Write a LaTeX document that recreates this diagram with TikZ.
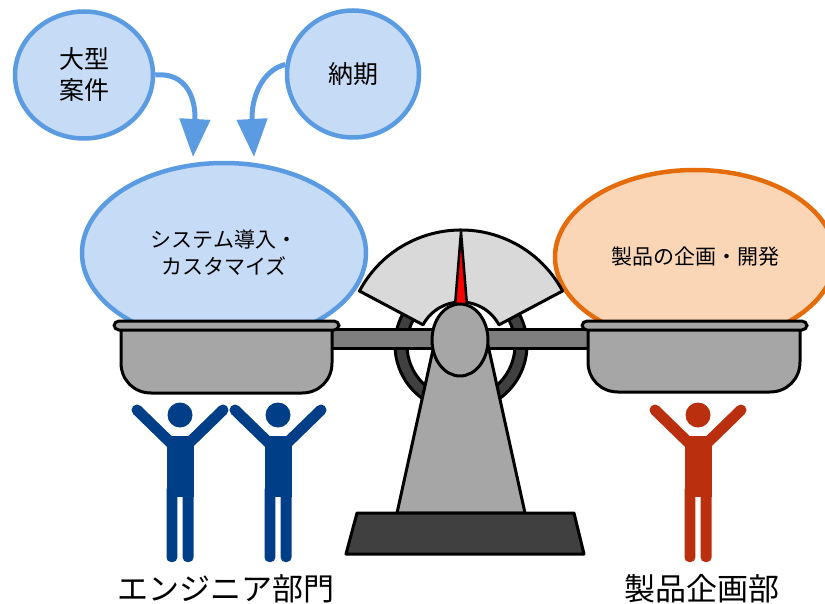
\documentclass[tikz,border=0pt]{standalone}
\usepackage{fontspec}
\setmainfont{Noto Sans CJK JP}
\usetikzlibrary{arrows.meta,shapes.geometric,calc}

\definecolor{blueline}{RGB}{91,155,226}
\definecolor{bluefill}{RGB}{198,219,245}
\definecolor{orangeline}{RGB}{228,108,10}
\definecolor{orangefill}{RGB}{251,214,182}
\definecolor{pangray}{RGB}{166,166,166}
\definecolor{beamgray}{RGB}{127,127,127}
\definecolor{basegray}{RGB}{64,64,64}
\definecolor{dialgray}{RGB}{217,217,217}
\definecolor{engblue}{RGB}{0,63,135}
\definecolor{planred}{RGB}{186,48,14}

% a person with raised arms; #1,#2 = head centre, #3 = colour
\newcommand\cheerperson[3]{%
  \begin{scope}[shift={(#1,#2)}]
    \fill[#3] (0,0) circle[radius=12.5];
    \draw[#3, line width=11pt, line cap=round] (-43,-5) -- (-6,31);
    \draw[#3, line width=11pt, line cap=round] (43,-5) -- (6,31);
    \fill[#3] (-13.5,21) rectangle (13.5,82);
    \fill[#3, rounded corners=4.5pt] (-13.5,70) rectangle (-2.7,147);
    \fill[#3, rounded corners=4.5pt] (2.7,70) rectangle (13.5,147);
  \end{scope}}

\begin{document}
\begin{tikzpicture}[x=1pt,y=-1pt,
  bubble/.style={ellipse, draw=blueline, fill=bluefill, line width=4.5pt,
    inner sep=0pt, align=center, font=\fontsize{25}{31}\selectfont},
  weight/.style={ellipse, line width=4.5pt, inner sep=0pt, align=center,
    font=\fontsize{21}{27}\selectfont},
  flow/.style={draw=blueline, line width=5pt, -{Triangle[width=30pt,length=38pt]}},
  metal/.style={draw=black, line width=3pt, line join=round},
  label/.style={font=\fontsize{31}{31}\selectfont, inner sep=0pt}]

\clip (0,0) rectangle (825,604);

% input bubbles and their arrows
\node[bubble, minimum width=138pt, minimum height=127pt] (case) at (84,75) {大型\\案件};
\node[bubble, minimum width=132pt, minimum height=127pt] (due) at (353,74) {納期};
\coordinate (tipA) at (193,157);
\coordinate (tipB) at (254,157);
\draw[flow] (case.east) .. controls (186,72) and (196,98) .. (tipA);
\draw[flow] (due.172) .. controls (262,70) and (251,98) .. (tipB);

% loads on the two pans
\node[weight, draw=blueline, fill=bluefill, minimum width=284pt, minimum height=180pt]
  (sys) at (224,253) {システム導入・\\カスタマイズ};
\node[weight, draw=orangeline, fill=orangefill, minimum width=280pt, minimum height=174pt]
  (plan) at (695,257) {製品の企画・開発};

% balance: ring behind the dial
\coordinate (hub) at (461,345);
\draw[metal, fill=basegray, even odd rule] (hub) circle[radius=66] (hub) circle[radius=54];
\draw[metal, fill=dialgray] ($(hub)+(-152:43)$) -- ($(hub)+(-152:115)$)
  arc[start angle=-152, end angle=-28, radius=115] -- ($(hub)+(-28:43)$)
  arc[start angle=-28, end angle=-152, radius=43] -- cycle;
\draw[metal, fill=red, line width=2.5pt] (454,318) -- (461,232) -- (468,318) -- cycle;

% beam
\draw[metal, fill=beamgray] (328,329) rectangle (594,348);

% left pan
\draw[metal, fill=pangray] (121,329) -- (121,363) .. controls (121,380) and (134,393) .. (151,393)
  -- (302,393) .. controls (319,393) and (332,380) .. (332,363) -- (332,329) -- cycle;
\draw[metal, fill=pangray, rounded corners=5pt] (114,321) rectangle (339,330);
% right pan
\draw[metal, fill=pangray] (588,329) -- (588,362) .. controls (588,379) and (601,392) .. (618,392)
  -- (770,392) .. controls (787,392) and (800,379) .. (800,362) -- (800,329) -- cycle;
\draw[metal, fill=pangray, rounded corners=5pt] (582,321) rectangle (807,330);

% stand, pivot and base
\draw[metal, fill=pangray] (434,345) -- (397,513) -- (525,513) -- (488,345) -- cycle;
\draw[metal, fill=pangray] (460,340) ellipse[x radius=28, y radius=36];
\draw[metal, fill=basegray] (357,513) -- (346,554) -- (584,554) -- (574,513) -- cycle;

% people holding up the pans
\cheerperson{180}{415}{engblue}
\cheerperson{278}{415}{engblue}
\cheerperson{698}{415}{planred}

\node[label] (eng) at (226,589) {エンジニア部門};
\node[label] (dept) at (702,589) {製品企画部};
\end{tikzpicture}
\end{document}
